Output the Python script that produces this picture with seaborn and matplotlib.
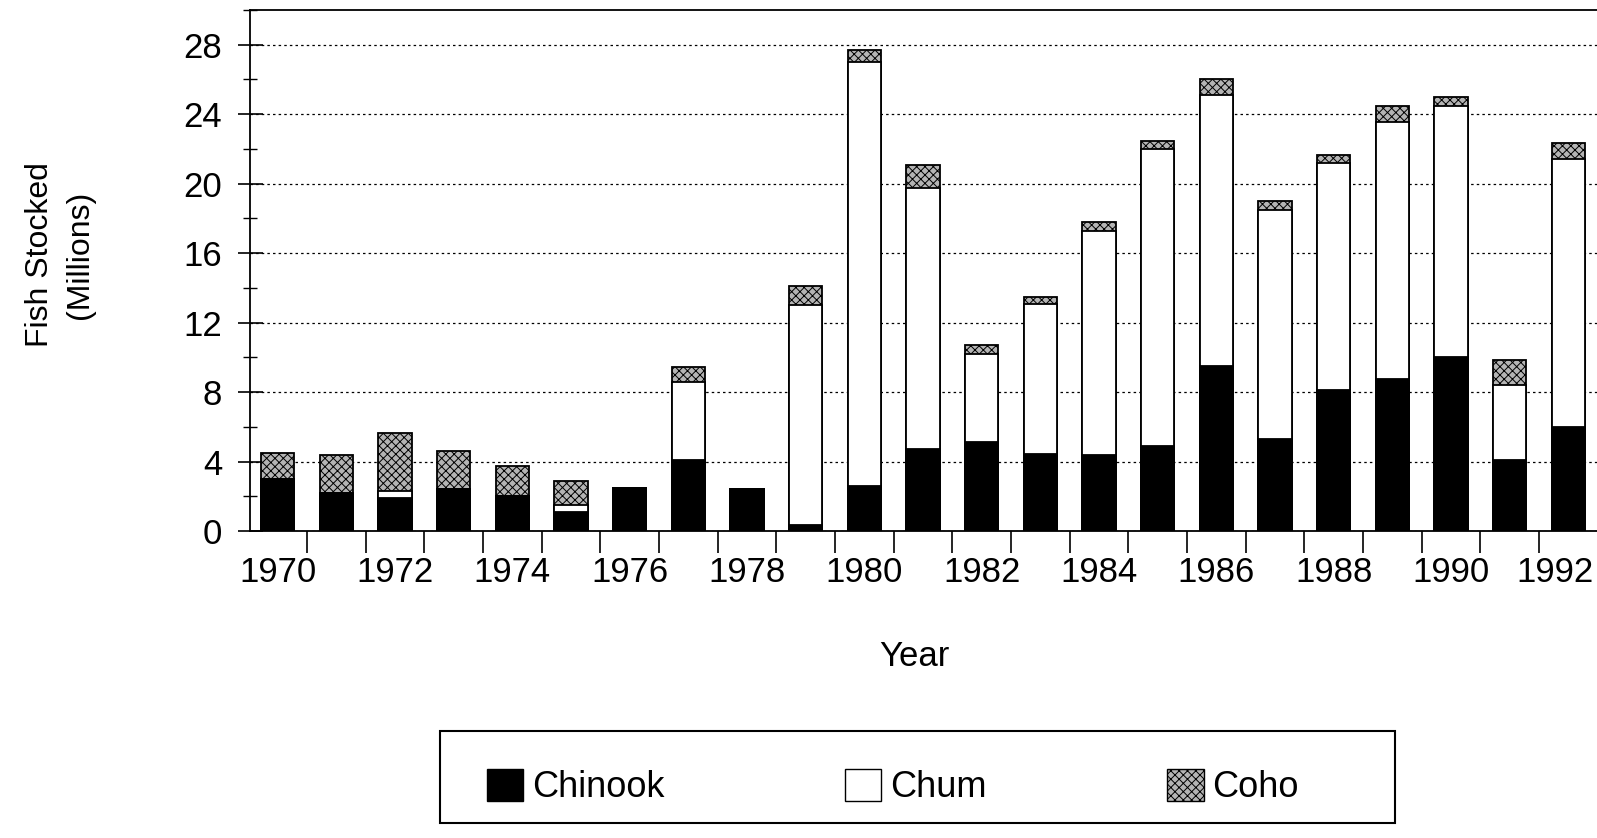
import pandas as pd
import matplotlib.pyplot as plt
import matplotlib.transforms as mtransforms
import seaborn as sns
from matplotlib.patches import Patch, Rectangle
from matplotlib.ticker import MultipleLocator, FixedLocator

# values (millions of fish)
years = [str(y) for y in range(1970, 1993)]
chinook = [3.0, 2.2, 1.9, 2.4, 2.0, 1.1, 2.5, 4.1, 2.4, 0.35, 2.6, 4.7, 5.1, 4.45,
           4.4, 4.9, 9.5, 5.3, 8.1, 8.75, 10.0, 4.1, 6.0]
chum = [0.0, 0.0, 0.4, 0.0, 0.0, 0.4, 0.0, 4.5, 0.0, 12.65, 24.4, 15.05, 5.1, 8.6,
        12.9, 17.1, 15.6, 13.2, 13.1, 14.8, 14.5, 4.3, 15.4]
coho = [1.5, 2.2, 3.35, 2.2, 1.75, 1.4, 0.0, 0.85, 0.0, 1.1, 0.7, 1.3, 0.5, 0.45,
        0.5, 0.45, 0.95, 0.5, 0.45, 0.9, 0.5, 1.45, 0.95]
species = ['Chinook', 'Chum', 'Coho']
y_ticks = list(range(0, 29, 4))

sns.set_style("white")
plt.rcParams['font.family'] = ['Liberation Sans', 'DejaVu Sans']
plt.rcParams['hatch.linewidth'] = 0.7
# plain black text like the printed figure
for key in ['text.color', 'axes.labelcolor', 'xtick.color', 'ytick.color']:
    plt.rcParams[key] = 'black'

df = pd.DataFrame({'year': years, 'Chinook': chinook, 'Chum': chum, 'Coho': coho})
df['chinook_chum'] = df['Chinook'] + df['Chum']
df['total'] = df['chinook_chum'] + df['Coho']

fig = plt.figure(figsize=(15.97, 8.38), dpi=100)
ax = fig.add_axes([250 / 1597, 307 / 838, 1347 / 1597, 521 / 838])

# stacked bars drawn as cumulative layers, tallest first
bar_kw = dict(order=years, width=0.57, saturation=1, errorbar=None,
              edgecolor='black', linewidth=1.3, ax=ax)
sns.barplot(data=df, x='year', y='total', color='#b4b4b4', hatch='xxxx', **bar_kw)
sns.barplot(data=df, x='year', y='chinook_chum', color='white', **bar_kw)
sns.barplot(data=df, x='year', y='Chinook', color='black', **bar_kw)

# the chart runs off the right edge of the page, as in the scan
ax.set_xlim(-0.47, 22.49)
ax.set_ylim(0, 30)

# seaborn's white style switches tick marks off
ax.tick_params(which='both', bottom=True, left=True, color='black')

# y axis: labelled ticks every 4, minor every 2, dotted grid
ax.yaxis.set_major_locator(FixedLocator(y_ticks))
ax.yaxis.set_minor_locator(MultipleLocator(2))
ax.set_yticklabels([str(t) for t in y_ticks], fontsize=25)
ax.tick_params(axis='y', which='major', direction='inout', length=18, width=1.2, pad=11)
ax.tick_params(axis='y', which='minor', direction='inout', length=10, width=1.0)
ax.yaxis.grid(True, which='major', linestyle=(0, (2, 2.5)), color='black', linewidth=0.9)
ax.set_axisbelow(True)

# x axis: tick marks between bars, labels every other year
ax.xaxis.set_major_locator(FixedLocator(list(range(0, len(years), 2))))
ax.xaxis.set_minor_locator(FixedLocator([i + 0.5 for i in range(len(years))]))
ax.set_xticklabels(years[::2], fontsize=25)
ax.tick_params(axis='x', which='major', length=0, pad=18)
ax.tick_params(axis='x', which='minor', direction='out', length=16, width=1.2)
# last year label sits right at the figure edge, nudge it in
last = ax.get_xticklabels()[-1]
last.set_transform(last.get_transform() +
                   mtransforms.ScaledTranslation(-0.13, 0, fig.dpi_scale_trans))

for side in ['left', 'bottom', 'top']:
    ax.spines[side].set_color('black')
    ax.spines[side].set_linewidth(1.3)
ax.spines['right'].set_visible(False)

ax.set_xlabel('Year', fontsize=25)
ax.xaxis.set_label_coords(0.493, -0.21)
ax.set_ylabel('Fish Stocked\n(Millions)', fontsize=23, linespacing=1.45)
ax.yaxis.set_label_coords(-0.115, 0.53)

# legend: entries spread left to right inside a plain box
handles = [Patch(facecolor='black', edgecolor='black'),
           Patch(facecolor='white', edgecolor='black'),
           Patch(facecolor='#b4b4b4', edgecolor='black', hatch='xxxx')]
fig.legend(handles, species, loc='center left', ncol=3,
           bbox_to_anchor=(487 / 1597, 0.061), fontsize=26, frameon=False,
           handlelength=1.0, handleheight=1.0, handletextpad=0.25,
           columnspacing=5.0, borderpad=0, borderaxespad=0)
fig.patches.append(Rectangle((440 / 1597, 15 / 838), 955 / 1597, 92 / 838,
                             transform=fig.transFigure, fill=False,
                             edgecolor='black', linewidth=1.5))

fig.savefig('out.png', dpi=100)
plt.close(fig)
